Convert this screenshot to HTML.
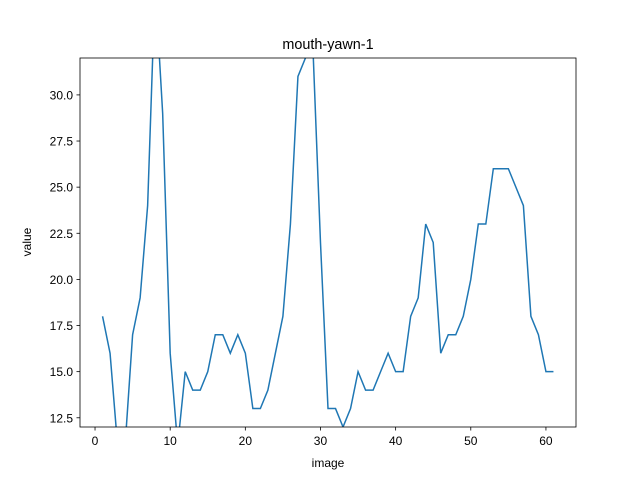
<!DOCTYPE html>
<html><head><meta charset="utf-8"><style>
body{margin:0;background:#fff}
svg{font-family:"Liberation Sans","DejaVu Sans",sans-serif}
</style></head><body>
<svg id="chart" width="640" height="480">
<rect width="640" height="480" fill="#fff"/>
<text x="328" y="49" text-anchor="middle" font-size="14.4">mouth-yawn-1</text>
<defs><clipPath id="cp"><rect x="80" y="58" width="496" height="369"/></clipPath></defs>
<g id="ticks"></g>
<path id="line" fill="none" stroke="#1f77b4" stroke-width="1.5" clip-path="url(#cp)"/>
<rect x="80" y="58" width="496" height="369" fill="none" stroke="#000" stroke-width="0.8"/>
<text x="328" y="467" text-anchor="middle" font-size="12">image</text>
<text transform="translate(31,242) rotate(-90)" text-anchor="middle" font-size="12">value</text>
</svg>
<script>
const values=[18,16,11,11,17,19,24,36,29,16,11,15,14,14,15,17,17,16,17,16,13,13,14,16,18,23,31,32,32.5,22,13,13,12,13,15,14,14,15,16,15,15,18,19,23,22,16,17,17,18,20,23,23,26,26,26,25,24,18,17,15,15];
const xTicks=[0,10,20,30,40,50,60];
const yTicks=[12.5,15.0,17.5,20.0,22.5,25.0,27.5,30.0];
const X0=80,X1=576,Y0=427,Y1=58,xmin=-2,xmax=64,ymin=12,ymax=32;
const sx=v=>X0+(v-xmin)/(xmax-xmin)*(X1-X0);
const sy=v=>Y0-(v-ymin)/(ymax-ymin)*(Y0-Y1);
const ns="http://www.w3.org/2000/svg";
document.getElementById('line').setAttribute('d',values.map((v,i)=>(i?'L':'M')+sx(i+1).toFixed(2)+','+sy(v).toFixed(2)).join(''));
const g=document.getElementById('ticks');
xTicks.forEach(t=>{
 const l=document.createElementNS(ns,'line');
 l.setAttribute('x1',sx(t));l.setAttribute('x2',sx(t));l.setAttribute('y1',Y0);l.setAttribute('y2',Y0+3.5);l.setAttribute('stroke','#000');l.setAttribute('stroke-width','0.8');
 
 
 g.appendChild(l);
 const tx=document.createElementNS(ns,'text');
 tx.setAttribute('x',sx(t));tx.setAttribute('y',Y0+18);tx.setAttribute('text-anchor','middle');tx.setAttribute('font-size','12');tx.textContent=t;
 
 
 g.appendChild(tx);
});
yTicks.forEach(t=>{
 const l=document.createElementNS(ns,'line');
 l.setAttribute('x1',X0-3.5);l.setAttribute('x2',X0);l.setAttribute('y1',sy(t));l.setAttribute('y2',sy(t));l.setAttribute('stroke','#000');l.setAttribute('stroke-width','0.8');
 
 
 g.appendChild(l);
 const tx=document.createElementNS(ns,'text');
 tx.setAttribute('x',X0-7);tx.setAttribute('y',sy(t)+4.5);tx.setAttribute('text-anchor','end');tx.setAttribute('font-size','12');tx.textContent=t.toFixed(1);
 
 
 g.appendChild(tx);
});
</script>
</body></html>
